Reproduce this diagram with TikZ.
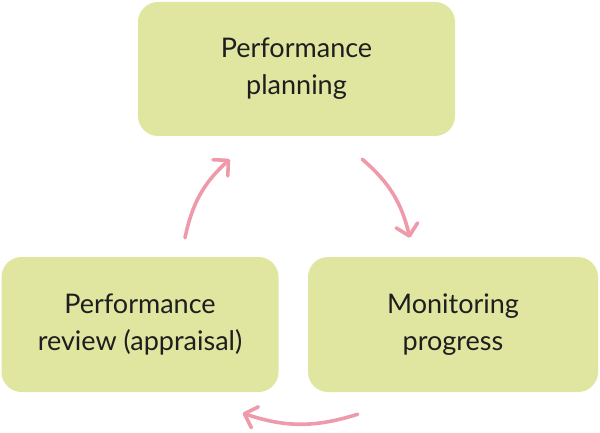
\documentclass[tikz,border=0pt]{standalone}
\usepackage{fontspec}
\setmainfont{Lato}
\usetikzlibrary{arrows.meta,calc}
\definecolor{boxfill}{HTML}{E0E6A0}
\definecolor{arrowpink}{HTML}{EF9AAA}
\definecolor{txt}{HTML}{1E1E1E}
\begin{document}
\begin{tikzpicture}[x=1pt,y=1pt,
  stage/.style={rectangle, rounded corners=20pt, fill=boxfill, draw=none,
    text=txt, align=center, font=\fontsize{27}{37}\selectfont, inner sep=0pt},
  cyc/.style={draw=arrowpink, line width=3.6pt, line cap=round,
    -{Straight Barb[length=11pt,width=22pt,line width=3.6pt,round]}, bend left=18}]
\useasboundingbox (0,0) rectangle (600,432);
\node[stage, minimum width=317pt, minimum height=134pt] (top) at (296.5,363) {Performance\\planning};
\node[stage, minimum width=277pt, minimum height=135pt] (left) at (140,107.5) {Performance\\review (appraisal)};
\node[stage, minimum width=290pt, minimum height=135pt] (right) at (453,107.5) {Monitoring\\progress};
\coordinate (a1s) at ($(left.north)+(45,19)$);
\coordinate (a1e) at ($(top.south west)+(92,-23)$);
\coordinate (a2s) at ($(top.south east)+(-93,-23)$);
\coordinate (a2e) at ($(right.north west)+(102,19)$);
\coordinate (a3s) at ($(right.south west)+(50,-22)$);
\coordinate (a3e) at ($(left.south east)+(-36,-21)$);
\draw[cyc] (a1s) to (a1e);
\draw[cyc] (a2s) to (a2e);
\draw[cyc] (a3s) to (a3e);
\end{tikzpicture}
\end{document}
